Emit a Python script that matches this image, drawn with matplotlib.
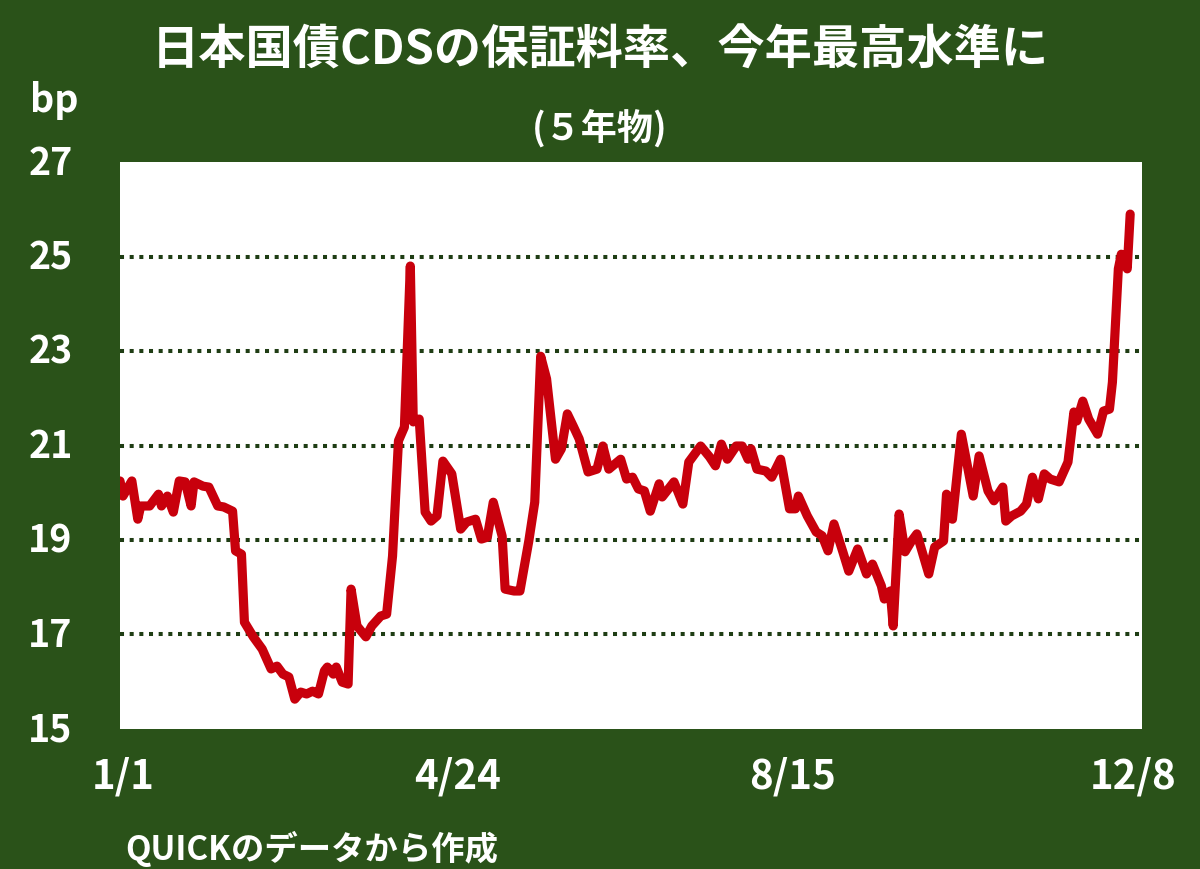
import matplotlib
matplotlib.use("Agg")
import matplotlib.pyplot as plt
import pandas as pd

# ---- DATA ----
# day offsets from 1/1 and CDS spread (bp)
days = [0, 1, 4, 6, 7, 10, 13, 14, 16, 18, 20, 22, 24, 25, 28, 30, 33, 35, 38, 39,
        41, 42, 45, 48, 51, 53, 55, 57, 59, 61, 63, 65, 67, 69, 70, 72, 73, 75, 77, 78,
        80, 83, 85, 88, 90, 92, 94, 96, 98, 99, 101, 103, 105, 107, 109, 112, 115, 117, 120, 122,
        124, 126, 129, 130, 133, 135, 138, 140, 142, 144, 147, 149, 151, 153, 155, 158, 161, 163, 165, 169,
        171, 173, 175, 177, 179, 182, 183, 187, 190, 192, 196, 199, 201, 203, 205, 208, 210, 212, 213, 215,
        218, 220, 223, 226, 228, 229, 232, 235, 237, 239, 241, 244, 246, 249, 252, 254, 257, 258, 260, 261,
        263, 265, 267, 269, 273, 275, 278, 279, 281, 284, 288, 290, 293, 295, 298, 299, 301, 304, 306, 308,
        310, 312, 314, 317, 320, 322, 323, 325, 327, 330, 332, 334, 335, 337, 338, 340, 341]
cds = [20.25, 19.93, 20.25, 19.44, 19.72, 19.72, 19.97, 19.72, 19.93, 19.59, 20.25, 20.23, 19.72, 20.23, 20.14, 20.12, 19.72, 19.70, 19.61, 18.77,
       18.70, 17.26, 16.95, 16.69, 16.27, 16.33, 16.16, 16.10, 15.63, 15.78, 15.74, 15.80, 15.74, 16.23, 16.31, 16.16, 16.31, 15.99, 15.95, 17.96,
       17.18, 16.95, 17.18, 17.39, 17.43, 18.66, 21.10, 21.39, 24.80, 21.50, 21.56, 19.59, 19.40, 19.51, 20.67, 20.40, 19.23, 19.38, 19.44, 19.02,
       19.06, 19.80, 19.08, 17.96, 17.92, 17.92, 18.98, 19.80, 22.89, 22.41, 20.71, 20.93, 21.67, 21.41, 21.14, 20.44, 20.50, 20.99, 20.50, 20.71,
       20.29, 20.33, 20.08, 20.04, 19.61, 20.19, 19.91, 20.23, 19.76, 20.65, 20.99, 20.76, 20.57, 21.03, 20.71, 20.99, 20.99, 20.71, 20.93, 20.50,
       20.46, 20.33, 20.71, 19.66, 19.66, 19.93, 19.51, 19.17, 19.09, 18.77, 19.34, 18.75, 18.34, 18.81, 18.28, 18.49, 18.03, 17.75, 17.92, 17.18,
       19.55, 18.75, 18.96, 19.13, 18.28, 18.85, 18.98, 19.97, 19.44, 21.24, 19.93, 20.78, 20.04, 19.83, 20.12, 19.40, 19.51, 19.61, 19.76, 20.33,
       19.87, 20.40, 20.29, 20.23, 20.65, 21.71, 21.52, 21.94, 21.56, 21.24, 21.73, 21.77, 22.34, 24.74, 25.05, 24.74, 25.90]

x_tick_labels = ["1/1", "4/24", "8/15", "12/8"]
y_ticks = [15, 17, 19, 21, 23, 25, 27]
grid_levels = [17, 19, 21, 23, 25]

dates = pd.Timestamp("2022-01-01") + pd.to_timedelta(days, unit="D")
tick_dates = [pd.Timestamp("2022-" + s.replace("/", "-")) for s in x_tick_labels]

# ---- STYLE ----
bg = "#2a5219"
grid_col = "#1f3d14"
line_col = "#c8000c"
cjk = ["Noto Sans CJK JP", "DejaVu Sans"]

fig = plt.figure(figsize=(12, 8.7), dpi=100, facecolor=bg)
ax = fig.add_axes([0.1, 0.161, 0.8517, 0.6515])
ax.set_facecolor("white")

for lv in grid_levels:
    ax.axhline(lv, color=grid_col, lw=2.9, ls=(0, (1, 1.4)), zorder=1)

ax.plot(dates, cds, color=line_col, lw=6.6, solid_joinstyle="round",
        solid_capstyle="round", zorder=3)

ax.set_ylim(15, 27)
ax.set_xlim(pd.Timestamp("2022-01-01"), pd.Timestamp("2022-12-12"))
for s in ax.spines.values():
    s.set_visible(False)
ax.set_xticks([])
ax.set_yticks([])

# y tick labels
for v in y_ticks:
    ax.text(-0.068, (v - 15) / 12, str(v), transform=ax.transAxes, ha="center", va="center",
            color="white", fontsize=27, fontweight="bold", family=cjk)
fig.text(0.045, 0.885, "bp", ha="center", va="center", color="white",
         fontsize=27, fontweight="bold", family=cjk)

# x tick labels
for d, lab in zip(tick_dates, x_tick_labels):
    ax.text(d + pd.Timedelta(days=1), 14.0, lab, ha="center", va="center", color="white",
            fontsize=29, fontweight="bold", family=cjk, clip_on=False)

fig.text(0.5, 0.942, "日本国債CDSの保証料率、今年最高水準に", ha="center", va="center",
         color="white", fontsize=34, fontweight="bold", family=cjk)
fig.text(0.5, 0.852, "(５年物)", ha="center", va="center",
         color="white", fontsize=26, fontweight="bold", family=cjk)
fig.text(0.104, 0.024, "QUICKのデータから作成", ha="left", va="center",
         color="white", fontsize=24, fontweight="bold", family=cjk)

fig.savefig("out.png", dpi=100, facecolor=bg)
